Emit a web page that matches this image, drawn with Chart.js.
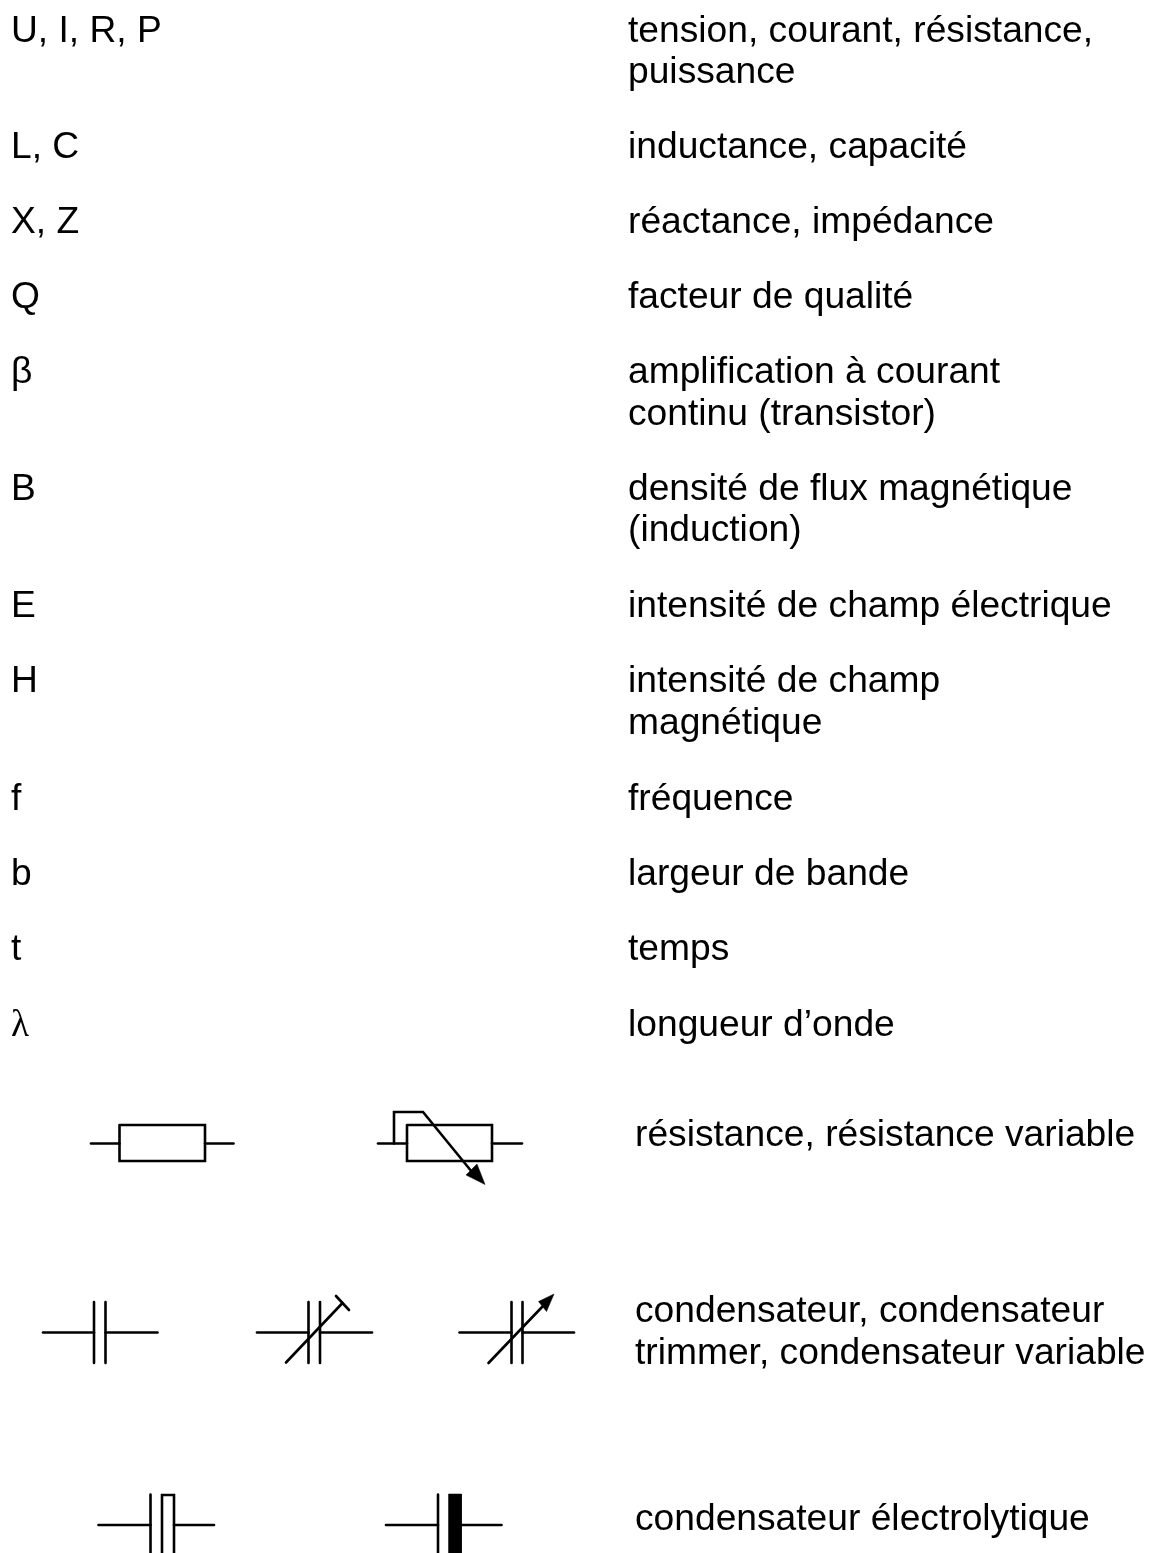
<!DOCTYPE html>
<html><head><meta charset="utf-8">
<script src="https://cdn.jsdelivr.net/npm/chart.js@4"></script>
<style>html,body{margin:0;padding:0;background:#fff}canvas{display:block}</style>
</head><body><canvas id="c" width="1161" height="1553"></canvas>
<script>
const quantityLabels = [
 ["U, I, R, P",11,42],["L, C",11,158],["X, Z",11,233],["Q",11,308],["β",11,383],["B",11,500],
 ["E",11,617],["H",11,692],["f",11,810],["b",11,885],["t",11,960]];
const lambdaLabel = ["λ",11,1036];
const descriptionLabels = [
 ["tension, courant, résistance,",628,42],["puissance",628,83],["inductance, capacité",628,158],
 ["réactance, impédance",628,233],["facteur de qualité",628,308],["amplification à courant",628,383],
 ["continu (transistor)",628,425],["densité de flux magnétique",628,500],["(induction)",628,541],
 ["intensité de champ électrique",628,617],["intensité de champ",628,692],["magnétique",628,734],
 ["fréquence",628,810],["largeur de bande",628,885],["temps",628,960],["longueur d’onde",628,1036]];
const symbolLabels = [
 ["résistance, résistance variable",635,1146],["condensateur, condensateur",635,1322],
 ["trimmer, condensateur variable",635,1364],["condensateur électrolytique",635,1530]];

const openPaths = [
 [[91,1143.5],[119.5,1143.5]],[[205,1143.5],[233.5,1143.5]],
 [[119.5,1125],[205,1125],[205,1161],[119.5,1161],[119.5,1125]],
 [[378,1143.5],[407,1143.5]],[[492,1143.5],[522,1143.5]],
 [[407,1125],[492,1125],[492,1161],[407,1161],[407,1125]],
 [[394,1143.5],[394,1112],[423,1112],[472,1172]],
 [[43,1332.5],[94,1332.5]],[[105.5,1332.5],[157.5,1332.5]],
 [[94,1302],[94,1363]],[[105.5,1302],[105.5,1363]],
 [[257,1332.5],[308.5,1332.5]],[[320,1332.5],[372,1332.5]],
 [[308.5,1302],[308.5,1363]],[[320,1302],[320,1363]],
 [[286,1362.5],[342.5,1303]],[[336,1296],[349,1310]],
 [[459.5,1332.5],[511.5,1332.5]],[[522.5,1332.5],[574,1332.5]],
 [[511.5,1302],[511.5,1363]],[[522.5,1302],[522.5,1363]],
 [[488.5,1363],[543,1306]],
 [[98.5,1525],[150.5,1525]],[[174,1525],[214,1525]],
 [[150.5,1494.5],[150.5,1554]],
 [[162,1556],[162,1495],[174,1495],[174,1556]],
 [[386,1525],[438,1525]],[[461.5,1525],[501.5,1525]],
 [[438,1494.5],[438,1554]]];
const filledShapes = [
 [[485,1184.5],[466,1175],[477,1164],[485,1184.5]],
 [[554,1294],[538.5,1301.5],[546.5,1311.5],[554,1294]],
 [[448.5,1494],[461.5,1494],[461.5,1556],[448.5,1556],[448.5,1494]]];

const toPts = p => p.map(([x,y])=>({x,y}));
const datasets = [
 ...openPaths.map(p=>({data:toPts(p),borderColor:'#000',borderWidth:2.6,pointRadius:0,showLine:true,fill:false,borderCapStyle:'round',borderJoinStyle:'miter'})),
 ...filledShapes.map(p=>({data:toPts(p),borderColor:'#000',backgroundColor:'#000',borderWidth:0.5,pointRadius:0,showLine:true,fill:'shape'}))
];
const textPlugin = {id:'text',afterDatasetsDraw(ch){
 const c=ch.ctx,xs=ch.scales.x,ys=ch.scales.y;
 c.save();c.fillStyle='#000';c.textBaseline='alphabetic';c.textAlign='left';
 const put=(r,font)=>{c.font=font;c.fillText(r[0],xs.getPixelForValue(r[1]),ys.getPixelForValue(r[2]));};
 const sans='37.2px "Liberation Sans", Arial, sans-serif';
 quantityLabels.forEach(r=>put(r,sans));
 descriptionLabels.forEach(r=>put(r,sans));
 symbolLabels.forEach(r=>put(r,sans));
 put(lambdaLabel,'37.2px "Liberation Serif", serif');
 c.restore();
}};
new Chart(document.getElementById('c'),{type:'scatter',data:{datasets},plugins:[textPlugin],options:{
 responsive:false,animation:false,events:[],layout:{padding:0},
 plugins:{legend:{display:false},tooltip:{enabled:false},title:{display:false}},
 scales:{x:{type:'linear',min:0,max:1161,display:false},y:{type:'linear',min:0,max:1553,reverse:true,display:false}}
}});
</script></body></html>
